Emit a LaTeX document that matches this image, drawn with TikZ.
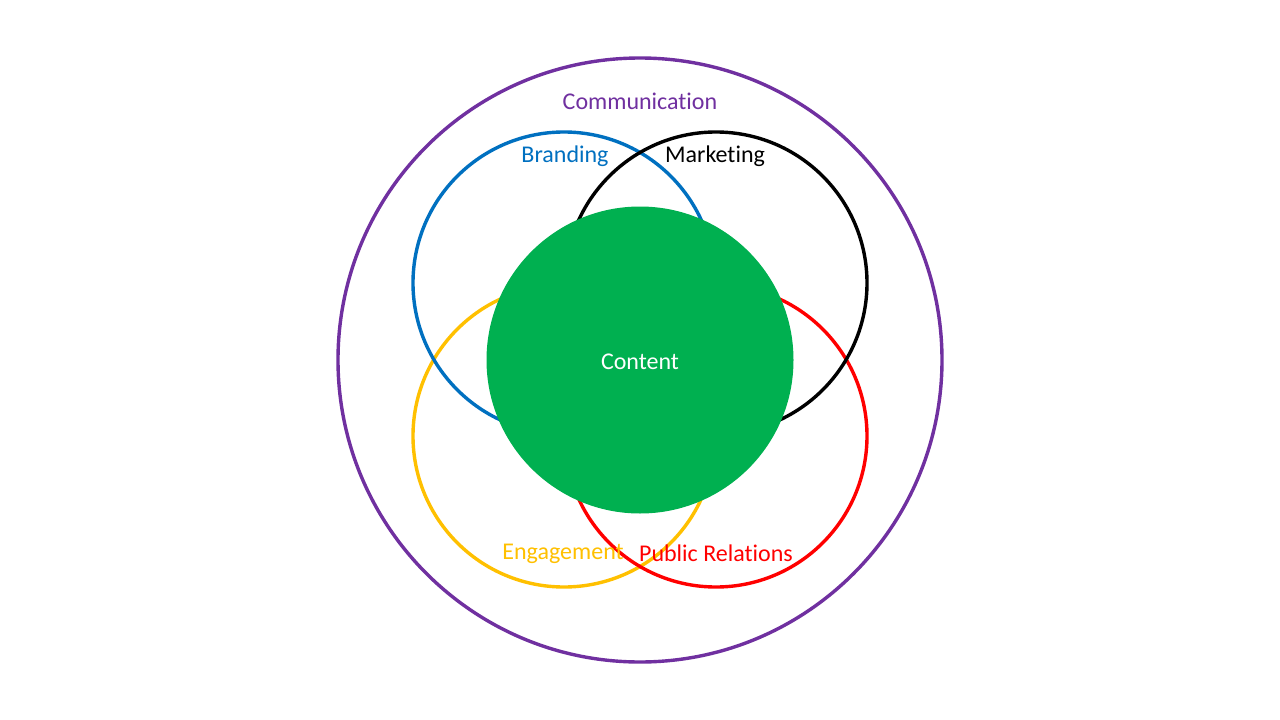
\documentclass[tikz,border=0pt]{standalone}
\usepackage{fontspec}
\setmainfont[RawFeature=-liga]{Carlito}
\definecolor{cpurple}{HTML}{7030A0}
\definecolor{cblue}{HTML}{0070C0}
\definecolor{cyellow}{HTML}{FFC000}
\definecolor{cred}{HTML}{FF0000}
\definecolor{cgreen}{HTML}{00B050}
\begin{document}
\begin{tikzpicture}[x=1pt,y=-1pt,
  ring/.style={circle,draw,line width=3.4pt,inner sep=0pt,minimum size=#1},
  lbl/.style={font=\fontsize{24}{28}\selectfont,inner sep=0pt}]
\useasboundingbox (0,0) rectangle (1280,720);
\fill[white] (0,0) rectangle (1280,720);
\node[ring=604pt,draw=cpurple] (comm) at (640,360) {};
\node[ring=302pt,draw=cyellow] (eng) at (564,436) {};
\node[ring=302pt,draw=cred] (pr) at (716,436) {};
\node[ring=302pt,draw=cblue] (brand) at (564,283) {};
\node[ring=302pt,draw=black] (mark) at (716,283) {};
\node[circle,fill=cgreen,inner sep=0pt,minimum size=307pt] (content) at (640,360) {};
\node[lbl,text=white] (lcontent) at (640,361.5) {Content};
\node[lbl,text=cpurple] (lcomm) at (640,101.5) {Communication};
\node[lbl,text=cblue] (lbrand) at (565,156.5) {Branding};
\node[lbl,text=black] (lmark) at (715,156.5) {Marketing};
\node[lbl,text=cyellow] (leng) at (563,553.5) {Engagement};
\node[lbl,text=cred] (lpr) at (716,553.5) {Public Relations};
\end{tikzpicture}
\end{document}
